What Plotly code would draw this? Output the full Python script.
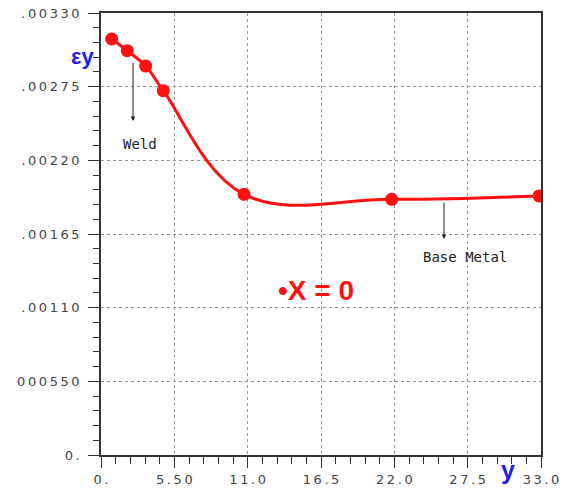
import plotly.graph_objects as go

# Data
y_pos = [0.80, 1.97, 3.35, 4.67, 10.73, 21.8, 32.85]
strain = [0.003106, 0.003019, 0.002904, 0.00272, 0.001946, 0.001909, 0.001934]

x_tickvals = [0, 5.5, 11.0, 16.5, 22.0, 27.5, 33.0]
x_ticklabels = ["0.", "5.50", "11.0", "16.5", "22.0", "27.5", "33.0"]
y_tickvals = [0, 0.00055, 0.0011, 0.00165, 0.0022, 0.00275, 0.0033]
y_ticklabels = ["0.", "000550", ".00110", ".00165", ".00220", ".00275", ".00330"]

TS = "\u2009"


def spaced(s):
    return TS.join(list(s))


RED = "#ff1010"
BLUE = "#1e1ee6"

fig = go.Figure()
fig.add_trace(go.Scatter(
    x=y_pos, y=strain, mode="lines+markers",
    line=dict(color=RED, width=3, shape="spline", smoothing=1.1),
    marker=dict(color=RED, size=13),
    showlegend=False, hoverinfo="skip",
))

axis_common = dict(
    showline=True, linecolor="#333333", linewidth=1.5, mirror=True,
    ticks="outside", ticklen=11, tickcolor="#333333", tickwidth=1.2,
    showgrid=True, gridcolor="#9a9a9a", griddash="dot", gridwidth=1,
    zeroline=False, automargin=False,
    tickfont=dict(family="DejaVu Sans", size=13, color="#444444"),
)

fig.update_xaxes(
    range=[0, 33], tickmode="array", tickvals=x_tickvals,
    ticktext=[spaced(t) for t in x_ticklabels],
    minor=dict(dtick=1.1, ticklen=7, tickcolor="#333333", ticks="outside", showgrid=False),
    ticklabelstandoff=1,
    **axis_common,
)
fig.update_yaxes(
    range=[0, 0.0033], tickmode="array", tickvals=y_tickvals,
    ticktext=[spaced(t) for t in y_ticklabels],
    minor=dict(dtick=0.00011, ticklen=6, tickcolor="#333333", ticks="outside", showgrid=False),
    ticklabelstandoff=6,
    **axis_common,
)

annotations = [
    # epsilon_y axis label
    dict(x=-0.041, y=0.9005, xref="paper", yref="paper", text="<b>εy</b>", showarrow=False,
         font=dict(family="Liberation Sans", size=22, color=BLUE), xanchor="center", yanchor="middle"),
    # y axis label
    dict(x=0.925, y=(455 - 470) / 442, xref="paper", yref="paper", text="<b>y</b>", showarrow=False,
         font=dict(family="Liberation Sans", size=25, color=BLUE), xanchor="center", yanchor="middle"),
    # X = 0 label
    dict(x=0.397, y=0.373, xref="paper", yref="paper", text="<b>•X = 0</b>", showarrow=False,
         font=dict(family="Liberation Sans", size=28, color=RED), xanchor="left", yanchor="middle"),
    # Weld text
    dict(x=(140 - 101) / 440, y=(455 - 144) / 442, xref="paper", yref="paper", text="Weld",
         showarrow=False, font=dict(family="DejaVu Sans Mono", size=14, color="#222222"),
         xanchor="center", yanchor="middle"),
    # Base Metal text
    dict(x=(465 - 101) / 440, y=(455 - 257) / 442, xref="paper", yref="paper", text="Base Metal",
         showarrow=False, font=dict(family="DejaVu Sans Mono", size=14, color="#222222"),
         xanchor="center", yanchor="middle"),
    # Weld arrow
    dict(x=(133 - 101) / 440, y=(455 - 121) / 442, xref="paper", yref="paper", text="",
         showarrow=True, ax=0, ay=-60, arrowhead=2, arrowsize=0.9, arrowwidth=1, arrowcolor="#222222"),
    # Base metal arrow
    dict(x=(444 - 101) / 440, y=(455 - 239) / 442, xref="paper", yref="paper", text="",
         showarrow=True, ax=0, ay=-38, arrowhead=2, arrowsize=0.9, arrowwidth=1, arrowcolor="#222222"),
]

fig.update_layout(
    width=571, height=488,
    margin=dict(l=101, r=30, t=13, b=33),
    paper_bgcolor="white", plot_bgcolor="white",
    annotations=annotations,
)

fig.write_html("out.html")
